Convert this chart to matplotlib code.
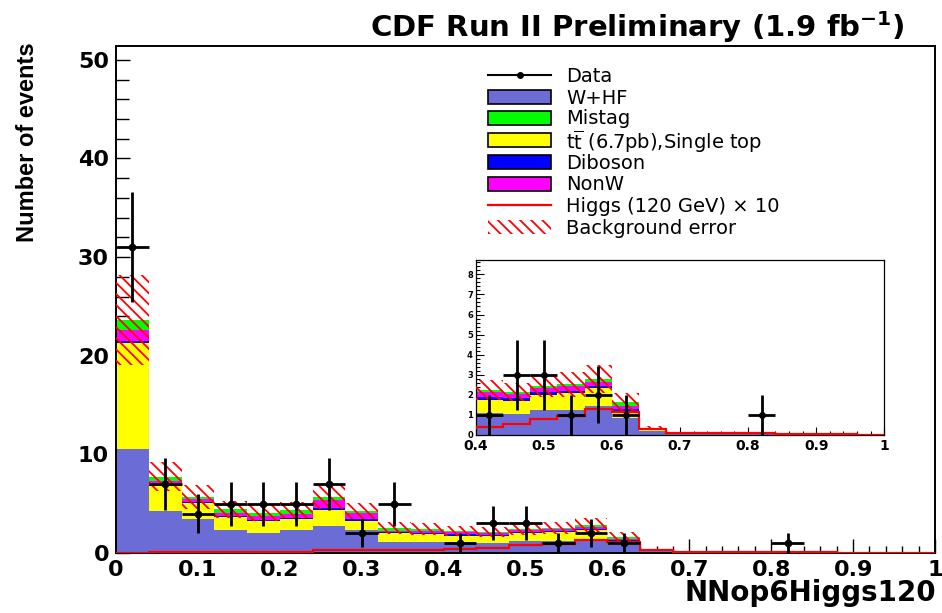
import numpy as np
import matplotlib
matplotlib.use("Agg")
import matplotlib.pyplot as plt
from matplotlib.lines import Line2D
from matplotlib.patches import Rectangle
from matplotlib.ticker import MultipleLocator, FixedLocator

plt.rcParams['font.family'] = ['DejaVu Sans']
plt.rcParams['mathtext.fontset'] = 'custom'
plt.rcParams['mathtext.rm'] = 'DejaVu Sans'
plt.rcParams['mathtext.bf'] = 'DejaVu Sans:bold'
plt.rcParams['mathtext.it'] = 'DejaVu Sans:italic'
plt.rcParams['hatch.linewidth'] = 1.3

# ---- binning: 25 bins of NN output between 0 and 1 ----
bin_edges = np.linspace(0.0, 1.0, 26)

# ---- background components (events per bin), stacked bottom to top ----
w_hf = [10.55, 4.26, 3.45, 2.33, 2.06, 2.33, 2.77, 2.30, 1.15, 1.15,
        1.08, 1.03, 1.25, 1.25, 1.45, 0.83, 0.20, 0.06, 0.04, 0.04,
        0.03, 0.03, 0.02, 0.01, 0.01]
top_single = [10.72, 2.54, 1.59, 1.27, 1.22, 1.12, 1.59, 0.98, 0.85, 0.80,
              0.66, 0.68, 0.75, 0.83, 0.88, 0.33, 0.10, 0.04, 0.02, 0.02,
              0.02, 0.02, 0.01, 0.01, 0.01]
diboson = [0.25, 0.12, 0.10, 0.12, 0.10, 0.12, 0.22, 0.20, 0.10, 0.10,
           0.16, 0.12, 0.13, 0.12, 0.12, 0.12, 0.01, 0.01, 0.01, 0.01,
           0.01, 0.01, 0.01, 0.00, 0.00]
non_w = [1.05, 0.40, 0.35, 0.30, 0.35, 0.40, 0.75, 0.60, 0.15, 0.15,
         0.22, 0.20, 0.20, 0.22, 0.20, 0.18, 0.02, 0.01, 0.01, 0.01,
         0.01, 0.00, 0.00, 0.00, 0.00]
mistag = [1.06, 0.42, 0.21, 0.41, 0.36, 0.39, 0.37, 0.18, 0.32, 0.23,
          0.12, 0.11, 0.09, 0.10, 0.15, 0.17, 0.02, 0.01, 0.01, 0.01,
          0.01, 0.01, 0.01, 0.01, 0.00]
bkg_error = [4.60, 1.45, 1.20, 0.85, 0.85, 0.85, 1.20, 0.80, 0.60, 0.57,
             0.50, 0.47, 0.55, 0.63, 0.70, 0.45, 0.10, 0.04, 0.02, 0.02,
             0.02, 0.02, 0.02, 0.01, 0.01]

# ---- Higgs signal (120 GeV) scaled by 10 ----
higgs_x10 = [0.05, 0.08, 0.10, 0.12, 0.13, 0.15, 0.30, 0.30, 0.32, 0.33,
             0.42, 0.53, 0.80, 0.96, 1.28, 1.13, 0.30, 0.10, 0.09, 0.08,
             0.08, 0.06, 0.04, 0.03, 0.01]

# ---- observed data ----
data_counts = [31, 7, 4, 5, 5, 5, 7, 2, 5, 0,
               1, 3, 3, 1, 2, 1, 0, 0, 0, 0,
               1, 0, 0, 0, 0]

legend_labels = ['Data', 'W+HF', 'Mistag',
                 r'$\mathrm{t\overline{t}}$ (6.7pb),Single top',
                 'Diboson', 'NonW', 'Higgs (120 GeV) \u00d7 10',
                 'Background error']

COL_WHF = '#6C6CD6'
COL_TOP = '#FFFF00'
COL_DIB = '#0000FF'
COL_NONW = '#FF00FF'
COL_MIS = '#00FF00'
COL_RED = '#FF0000'
HATCH = '\\\\\\'

stack_components = [
    (w_hf, COL_WHF),
    (top_single, COL_TOP),
    (diboson, COL_DIB),
    (non_w, COL_NONW),
    (mistag, COL_MIS),
]

W, H = 942, 613
fig = plt.figure(figsize=(W / 100, H / 100), dpi=100)


def px_axes(x0, y0, x1, y1):
    return [x0 / W, 1 - y1 / H, (x1 - x0) / W, (y1 - y0) / H]


def fx(x):
    return x / W


def fy(y):
    return 1 - y / H


def draw_histos(ax, marker_size, err_lw, higgs_lw):
    centers = 0.5 * (bin_edges[:-1] + bin_edges[1:])
    half_w = 0.5 * np.diff(bin_edges)
    bottom = np.zeros(len(centers))
    for values, color in stack_components:
        top = bottom + np.asarray(values)
        ax.stairs(top, bin_edges, baseline=bottom, fill=True,
                  facecolor=color, edgecolor='none', linewidth=0, zorder=2)
        bottom = top
    total = bottom
    err = np.asarray(bkg_error)
    ax.stairs(total + err, bin_edges, baseline=total - err, fill=True,
              facecolor='none', edgecolor=COL_RED, hatch=HATCH,
              linewidth=0, zorder=3)
    ax.stairs(higgs_x10, bin_edges, baseline=None, color=COL_RED,
              linewidth=higgs_lw, zorder=4)
    counts = np.asarray(data_counts, dtype=float)
    mask = counts > 0
    ax.errorbar(centers[mask], counts[mask], yerr=np.sqrt(counts[mask]),
                xerr=half_w[mask], fmt='o', color='black', ms=marker_size,
                elinewidth=err_lw, capsize=0, zorder=5)


# ---------------- main frame ----------------
ax = fig.add_axes(px_axes(116, 46, 935, 553))
draw_histos(ax, marker_size=4.5, err_lw=2.0, higgs_lw=1.6)
ax.set_xlim(0, 1)
ax.set_ylim(0, 51.4)
ax.xaxis.set_major_locator(FixedLocator([0, 0.1, 0.2, 0.3, 0.4, 0.5, 0.6, 0.7, 0.8, 0.9, 1.0]))
ax.xaxis.set_minor_locator(MultipleLocator(0.02))
ax.yaxis.set_major_locator(MultipleLocator(10))
ax.yaxis.set_minor_locator(MultipleLocator(2))
ax.set_xticklabels(['0', '0.1', '0.2', '0.3', '0.4', '0.5', '0.6', '0.7', '0.8', '0.9', '1'])
ax.tick_params(which='both', direction='in', top=False, right=False, width=1.0)
ax.tick_params(axis='x', which='major', length=10, pad=5)
ax.tick_params(axis='x', which='minor', length=5)
ax.tick_params(axis='y', which='major', length=10, pad=5)
ax.tick_params(axis='y', which='minor', length=9)
for lbl in ax.get_xticklabels() + ax.get_yticklabels():
    lbl.set_fontweight('bold')
    lbl.set_fontsize(16)
for sp in ax.spines.values():
    sp.set_linewidth(1.4)

# ---------------- legend (fixed rows, no frame) ----------------
row_y0, row_dy = 75.0, 21.7
h_x0, h_x1, box_h = 488.0, 551.0, 14.0
text_x = 566.0
legend_styles = [
    ('line_marker', 'black'),
    ('box', COL_WHF),
    ('box', COL_MIS),
    ('box', COL_TOP),
    ('box', COL_DIB),
    ('box', COL_NONW),
    ('line', COL_RED),
    ('hatch', COL_RED),
]
# the top-quark label carries an overline, so it sits a little lower
baseline_shift = [7.0, 7.0, 6.0, 9.0, 7.0, 7.0, 7.0, 7.0]
for i, (label, (kind, color)) in enumerate(zip(legend_labels, legend_styles)):
    yc = row_y0 + i * row_dy
    if kind in ('line', 'line_marker'):
        fig.add_artist(Line2D([fx(h_x0), fx(h_x1)], [fy(yc), fy(yc)],
                              transform=fig.transFigure, color=color,
                              lw=1.5 if kind == 'line_marker' else 1.6))
        if kind == 'line_marker':
            fig.add_artist(Line2D([fx(0.5 * (h_x0 + h_x1))], [fy(yc)],
                                  transform=fig.transFigure, color=color,
                                  marker='o', ms=4, lw=0))
    elif kind == 'box':
        fig.add_artist(Rectangle((fx(h_x0), fy(yc + box_h / 2)),
                                 fx(h_x1 - h_x0), box_h / H,
                                 transform=fig.transFigure, facecolor=color,
                                 edgecolor='black', lw=1.2))
    else:
        fig.add_artist(Rectangle((fx(h_x0), fy(yc + box_h / 2)),
                                 fx(h_x1 - h_x0), box_h / H,
                                 transform=fig.transFigure, facecolor='none',
                                 edgecolor=color, hatch=HATCH, lw=0))
    fig.text(fx(text_x), fy(yc + baseline_shift[i]), label, ha='left',
             va='baseline', fontsize=14)

# titles
fig.text(905 / W, 1 - 27 / H, r'CDF Run II Preliminary (1.9 fb$^{\mathbf{-1}}$)',
         ha='right', va='center', fontsize=21, fontweight='bold')
fig.text(936 / W, 1 - 601 / H, 'NNop6Higgs120', ha='right', va='baseline',
         fontsize=20, fontweight='bold')
fig.text(28 / W, 1 - 142 / H, 'Number of events', rotation=90,
         ha='center', va='center', fontsize=17, fontweight='bold',
         family='Liberation Sans')

# ---------------- zoomed frame, 0.4 - 1.0 ----------------
axi = fig.add_axes(px_axes(475.7, 259.7, 884.3, 435))
axi.set_facecolor('white')
draw_histos(axi, marker_size=4.0, err_lw=2.0, higgs_lw=1.6)
axi.set_xlim(0.4, 1.0)
axi.set_ylim(0, 8.73)
axi.xaxis.set_major_locator(FixedLocator([0.4, 0.5, 0.6, 0.7, 0.8, 0.9, 1.0]))
axi.xaxis.set_minor_locator(MultipleLocator(0.02))
axi.set_xticklabels(['0.4', '0.5', '0.6', '0.7', '0.8', '0.9', '1'])
axi.yaxis.set_major_locator(MultipleLocator(1))
axi.yaxis.set_minor_locator(MultipleLocator(0.2))
axi.tick_params(which='both', direction='in', top=False, right=False, width=0.8)
axi.tick_params(axis='x', which='major', length=6, pad=3)
axi.tick_params(axis='x', which='minor', length=3)
axi.tick_params(axis='y', which='major', length=6, pad=2)
axi.tick_params(axis='y', which='minor', length=3)
for lbl in axi.get_xticklabels():
    lbl.set_fontweight('bold')
    lbl.set_fontsize(10)
for lbl in axi.get_yticklabels():
    lbl.set_fontweight('bold')
    lbl.set_fontsize(6)
for sp in axi.spines.values():
    sp.set_linewidth(0.9)

fig.savefig('out.png', dpi=100)
